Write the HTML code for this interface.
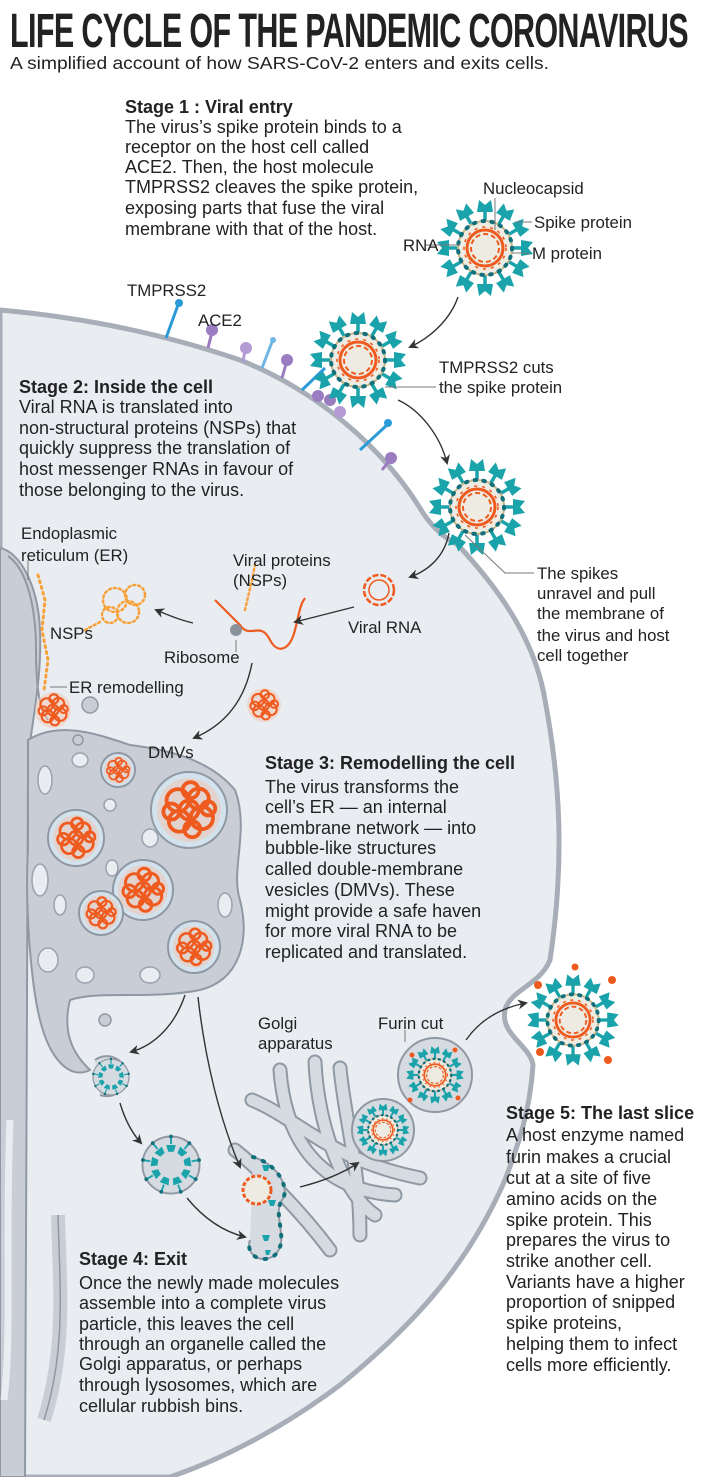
<!DOCTYPE html>
<html><head><meta charset="utf-8">
<style>
html,body{margin:0;padding:0;background:#fff;}
svg{display:block;}
text{font-family:"Liberation Sans",Arial,sans-serif;fill:#222;}
.t{font-size:18px;}
.b{font-weight:bold;font-size:18px;}
.l{font-size:16.8px;}
</style></head><body>
<svg width="720" height="1477" viewBox="0 0 720 1477" xmlns="http://www.w3.org/2000/svg">
<defs>
<marker id="ah" markerWidth="10" markerHeight="10" refX="8" refY="5" orient="auto" markerUnits="userSpaceOnUse">
<path d="M0,0 L10,5 L0,10 L3,5 Z" fill="#333"/></marker>
<g id="sp">
<line x1="0" y1="-27" x2="0" y2="-38" stroke="#1aa3ab" stroke-width="3.5"/>
<path d="M-8,-36 L8,-36 L6,-48 L0,-43 L-6,-48 Z" fill="#1aa3ab"/>
</g>
<g id="vir">
<use href="#sp"/><use href="#sp" transform="rotate(30)"/><use href="#sp" transform="rotate(60)"/>
<use href="#sp" transform="rotate(90)"/><use href="#sp" transform="rotate(120)"/><use href="#sp" transform="rotate(150)"/>
<use href="#sp" transform="rotate(180)"/><use href="#sp" transform="rotate(210)"/><use href="#sp" transform="rotate(240)"/>
<use href="#sp" transform="rotate(270)"/><use href="#sp" transform="rotate(300)"/><use href="#sp" transform="rotate(330)"/>
<circle r="27" fill="#eeece2" stroke="#c9b58a" stroke-width="2"/>
<circle r="27" fill="none" stroke="#11707a" stroke-width="4" stroke-dasharray="1.5 7.4" stroke-linecap="round"/>
<circle r="18" fill="none" stroke="#ef5a1e" stroke-width="3"/>
<circle r="14" fill="none" stroke="#ef5a1e" stroke-width="2" stroke-dasharray="5 3"/>
<circle r="21" fill="none" stroke="#ef5a1e" stroke-width="1.6" stroke-dasharray="3 5"/>
</g>
<g id="spin">
<line x1="0" y1="-30" x2="0" y2="-22" stroke="#1aa3ab" stroke-width="2"/>
<path d="M-5,-21 L5,-21 L3,-14 L-3,-14 Z" fill="#1aa3ab"/>
<circle cy="-30" r="2" fill="#11707a"/>
</g>
<g id="ves">
<circle r="30" fill="#d6dbe1" stroke="#8f98a3" stroke-width="2"/>
<use href="#spin"/><use href="#spin" transform="rotate(40)"/><use href="#spin" transform="rotate(80)"/>
<use href="#spin" transform="rotate(120)"/><use href="#spin" transform="rotate(160)"/><use href="#spin" transform="rotate(200)"/>
<use href="#spin" transform="rotate(240)"/><use href="#spin" transform="rotate(280)"/><use href="#spin" transform="rotate(320)"/>
</g>
<g id="tg">
<circle r="1" fill="#f3c3ad" opacity="0.5"/>
<g fill="none" stroke="#ef5a1e" stroke-width="0.12">
<circle cx="-0.35" cy="-0.3" r="0.35"/>
<circle cx="0.3" cy="-0.35" r="0.32"/>
<circle cx="0.4" cy="0.25" r="0.35"/>
<circle cx="-0.3" cy="0.35" r="0.33"/>
<circle cx="0" cy="0" r="0.3"/>
<circle cx="-0.55" cy="0.05" r="0.25"/>
<circle cx="0.1" cy="0.6" r="0.25"/>
<circle cx="0.05" cy="-0.62" r="0.25"/>
<circle cx="0.6" cy="-0.05" r="0.22"/>
</g>
</g>
</defs>

<!-- cell -->
<path d="M0,310 C90,318 170,336 240,360 C320,392 385,450 423,513 C438,535 450,540 458,545 C500,590 535,640 545,700 C560,780 565,860 550,960 C540,985 510,990 505,1010 C500,1035 530,1045 533,1065 C530,1110 520,1140 505,1180 C470,1260 420,1320 340,1385 C280,1430 220,1460 170,1477 L0,1477 Z" fill="#e9edf2" stroke="#a7aeb8" stroke-width="5"/>

<!-- ER left band -->
<path d="M0,548 C20,552 38,585 40,630 C42,680 32,720 28,760 L25,1477 L0,1477 Z" fill="#c9ced6" stroke="#8f98a3" stroke-width="2"/>
<path d="M8,556 C28,570 36,610 36,650 C36,690 40,710 48,720" fill="none" stroke="#8f98a3" stroke-width="2"/>
<path d="M10,1120 C5,1250 12,1330 4,1400" fill="none" stroke="#e9edf2" stroke-width="7"/>
<path d="M58,1215 C60,1290 66,1350 44,1420" fill="none" stroke="#c9ced6" stroke-width="14"/>
<path d="M58,1215 C60,1290 66,1350 44,1420" fill="none" stroke="#8f98a3" stroke-width="1.5"/>
<!-- DMV complex -->
<path d="M28,740 C60,720 100,735 130,745 C170,750 210,760 235,790 C250,830 230,870 240,900 C250,940 240,980 200,990 C150,1000 100,990 70,1000 C60,1040 80,1060 90,1070 C70,1080 50,1060 40,1020 C30,980 25,900 28,850 Z" fill="#c9ced6" stroke="#8f98a3" stroke-width="2"/>
<g fill="#e9edf2" stroke="#9aa2ad" stroke-width="1.5">
<ellipse cx="45" cy="780" rx="7" ry="14"/><ellipse cx="40" cy="880" rx="8" ry="16"/><ellipse cx="48" cy="960" rx="10" ry="12"/>
<ellipse cx="85" cy="975" rx="9" ry="8"/><ellipse cx="150" cy="975" rx="10" ry="8"/><ellipse cx="225" cy="905" rx="7" ry="12"/>
<ellipse cx="150" cy="838" rx="8" ry="9"/><ellipse cx="112" cy="868" rx="6" ry="8"/><ellipse cx="60" cy="905" rx="6" ry="10"/>
<ellipse cx="80" cy="760" rx="8" ry="7"/><ellipse cx="110" cy="805" rx="6" ry="6"/><ellipse cx="175" cy="955" rx="6" ry="5"/>
</g>
<g stroke="#8f98a3" stroke-width="2" fill="#d3e3ee">
<circle cx="118" cy="770" r="17"/><circle cx="189" cy="810" r="38"/><circle cx="76" cy="838" r="28"/>
<circle cx="143" cy="890" r="30"/><circle cx="101" cy="913" r="22"/><circle cx="194" cy="947" r="26"/>
</g>
<use href="#tg" transform="translate(118,770) scale(14)"/>
<use href="#tg" transform="translate(189,810) scale(32)"/>
<use href="#tg" transform="translate(76,838) scale(23)"/>
<use href="#tg" transform="translate(143,890) scale(25)"/>
<use href="#tg" transform="translate(101,913) scale(18)"/>
<use href="#tg" transform="translate(194,947) scale(21)"/>
<circle cx="90" cy="705" r="8" fill="#c9ced6" stroke="#8f98a3" stroke-width="1.5"/>
<circle cx="78" cy="740" r="5" fill="#c9ced6" stroke="#8f98a3" stroke-width="1.5"/>
<circle cx="105" cy="1020" r="6" fill="#c9ced6" stroke="#8f98a3" stroke-width="1.5"/>
<use href="#tg" transform="translate(53,710) scale(18)"/>
<use href="#tg" transform="translate(264,705) scale(17)"/>
<path d="M38,575 L45,600 L42,630 L48,660 L44,690" fill="none" stroke="#f7a13a" stroke-width="3" stroke-dasharray="2 4" stroke-linecap="round"/>
<g fill="none" stroke="#f7a13a" stroke-width="2.5" stroke-dasharray="2 3" stroke-linecap="round">
<circle cx="115" cy="600" r="12"/><circle cx="135" cy="595" r="10"/><circle cx="128" cy="612" r="11"/><circle cx="110" cy="615" r="8"/>
<path d="M85,630 L100,622"/><path d="M245,610 L252,580 L255,565"/>
</g>
<path d="M215,600 C225,610 230,615 240,625 C250,640 260,620 270,640 C278,655 290,650 295,630 C300,610 300,605 305,598" fill="none" stroke="#ef5a1e" stroke-width="2.2"/>
<circle cx="236" cy="630" r="6" fill="#8a929c"/>
<circle cx="379" cy="590" r="15" fill="none" stroke="#ef5a1e" stroke-width="2.5" stroke-dasharray="6 2"/>
<circle cx="379" cy="590" r="10" fill="none" stroke="#ef5a1e" stroke-width="1.5"/>

<!-- receptors -->
<g fill="none" stroke-width="3">
<path d="M166,338 L178,305" stroke="#2a9ad8"/><circle cx="179" cy="303" r="4" fill="#2a9ad8" stroke="none"/>
<path d="M208,348 L212,332" stroke="#9a7cc0"/><circle cx="212" cy="330" r="6" fill="#9a7cc0" stroke="none"/>
<path d="M243,362 L245,350" stroke="#b59bd4"/><circle cx="246" cy="348" r="6" fill="#b59bd4" stroke="none"/>
<path d="M262,368 L272,342" stroke="#6eb6e6"/><circle cx="273" cy="340" r="3" fill="#6eb6e6" stroke="none"/>
<path d="M282,378 L286,364" stroke="#9a7cc0"/><circle cx="287" cy="360" r="6" fill="#9a7cc0" stroke="none"/>
<path d="M302,390 L325,368" stroke="#2a9ad8"/>
<circle cx="318" cy="396" r="6" fill="#9a7cc0" stroke="none"/><circle cx="330" cy="400" r="6" fill="#9a7cc0" stroke="none"/><circle cx="340" cy="412" r="6" fill="#b59bd4" stroke="none"/>
<path d="M360,450 L387,425" stroke="#2a9ad8"/><circle cx="388" cy="423" r="4" fill="#2a9ad8" stroke="none"/>
<path d="M382,470 L390,460" stroke="#9a7cc0"/><circle cx="391" cy="458" r="6" fill="#9a7cc0" stroke="none"/>
</g>

<use href="#vir" transform="translate(485,248)"/>
<use href="#vir" transform="translate(358,360)"/>
<use href="#vir" transform="translate(477,507)"/>
<use href="#vir" transform="translate(573,1020) scale(0.95)"/>
<g fill="#ef5a1e"><circle cx="538" cy="985" r="4"/><circle cx="612" cy="980" r="4"/><circle cx="540" cy="1052" r="4"/><circle cx="608" cy="1060" r="4"/><circle cx="575" cy="967" r="3.5"/></g>

<!-- golgi -->
<g fill="none" stroke-linecap="round">
<g stroke="#8f98a3" stroke-width="15">
<path d="M252,1100 C300,1120 330,1160 420,1178"/>
<path d="M280,1070 C285,1140 320,1190 395,1195"/>
<path d="M315,1062 C318,1130 345,1195 375,1215"/>
<path d="M340,1068 C345,1120 360,1170 360,1235"/>
<path d="M235,1150 C260,1170 300,1210 330,1250"/>
</g>
<g stroke="#d6dbe1" stroke-width="11">
<path d="M252,1100 C300,1120 330,1160 420,1178"/>
<path d="M280,1070 C285,1140 320,1190 395,1195"/>
<path d="M315,1062 C318,1130 345,1195 375,1215"/>
<path d="M340,1068 C345,1120 360,1170 360,1235"/>
<path d="M235,1150 C260,1170 300,1210 330,1250"/>
</g>
</g>
<path d="M253,1157 C280,1165 290,1190 282,1200 C272,1215 290,1240 275,1255 C262,1265 245,1255 250,1240" fill="#d6dbe1" stroke="#8f98a3" stroke-width="2"/>
<path d="M253,1157 C280,1165 290,1190 282,1200 C272,1215 290,1240 275,1255 C262,1265 245,1255 250,1240" fill="none" stroke="#11707a" stroke-width="4" stroke-dasharray="1.5 9" stroke-linecap="round"/>
<g fill="#1aa3ab"><path d="M262,1165 l8,0 -2,6 -4,0z"/><path d="M268,1200 l8,0 -2,6 -4,0z"/><path d="M262,1235 l8,0 -2,6 -4,0z"/><path d="M265,1250 l6,0 -2,5 -3,0z"/></g>
<circle cx="257" cy="1190" r="14" fill="#eeece2" stroke="#ef5a1e" stroke-width="3" stroke-dasharray="4 2"/>
<path d="M95,1060 A20,20 0 1,1 100,1095" fill="#d6dbe1" stroke="#8f98a3" stroke-width="2"/>
<use href="#ves" transform="translate(111,1077) scale(0.6)"/>
<use href="#ves" transform="translate(171,1165) scale(0.95)"/>
<circle cx="383" cy="1130" r="31" fill="#d6dbe1" stroke="#8f98a3" stroke-width="2"/>
<use href="#vir" transform="translate(383,1130) scale(0.55)"/>
<circle cx="435" cy="1075" r="37" fill="#d6dbe1" stroke="#8f98a3" stroke-width="2"/>
<use href="#vir" transform="translate(435,1075) scale(0.6)"/>
<g fill="#ef5a1e"><circle cx="412" cy="1055" r="2.5"/><circle cx="455" cy="1050" r="2.5"/><circle cx="410" cy="1100" r="2.5"/><circle cx="458" cy="1098" r="2.5"/></g>

<g fill="none" stroke="#333" stroke-width="1.4" marker-end="url(#ah)">
<path d="M458,297 C450,320 430,338 410,347"/>
<path d="M398,400 C420,410 440,435 447,463"/>
<path d="M449,533 C445,555 430,570 410,577"/>
<path d="M354,607 C335,612 315,617 295,622"/>
<path d="M193,623 C180,620 168,615 156,610"/>
<path d="M252,663 C245,700 225,725 194,738"/>
<path d="M185,995 C175,1025 155,1045 131,1052"/>
<path d="M198,997 C205,1060 220,1120 240,1167"/>
<path d="M120,1103 C125,1120 132,1133 141,1143"/>
<path d="M187,1198 C205,1220 225,1232 245,1237"/>
<path d="M300,1187 C320,1182 340,1175 358,1163"/>
<path d="M466,1040 C480,1020 500,1008 526,1003"/>
</g>
<g stroke="#777" stroke-width="1" fill="none">
<path d="M495,198 L495,230"/><path d="M532,222 L515,222"/><path d="M425,245 L460,245"/><path d="M530,253 L512,253"/>
<path d="M436,387 L385,387"/><path d="M534,573 L505,573 L465,535"/>
<path d="M28,560 L28,580"/><path d="M67,687 L50,687"/><path d="M236,640 L236,652"/><path d="M405,1030 L405,1042"/>
</g>

<text x="10" y="47" font-size="48" font-weight="bold" textLength="678" lengthAdjust="spacingAndGlyphs" style="font-family:'Liberation Sans Narrow','Liberation Sans',sans-serif;letter-spacing:-1px">LIFE CYCLE OF THE PANDEMIC CORONAVIRUS</text>
<text x="10" y="69" font-size="17.5" textLength="539" lengthAdjust="spacingAndGlyphs">A simplified account of how SARS-CoV-2 enters and exits cells.</text>

<text class="b" x="125" y="113">Stage 1 : Viral entry</text>
<text class="t" x="125" y="133">The virus’s spike protein binds to a</text>
<text class="t" x="125" y="153">receptor on the host cell called</text>
<text class="t" x="125" y="173">ACE2. Then, the host molecule</text>
<text class="t" x="125" y="193">TMPRSS2 cleaves the spike protein,</text>
<text class="t" x="125" y="214">exposing parts that fuse the viral</text>
<text class="t" x="125" y="235">membrane with that of the host.</text>

<text class="l" x="483" y="194">Nucleocapsid</text>
<text class="l" x="534" y="228">Spike protein</text>
<text class="l" x="403" y="251">RNA</text>
<text class="l" x="532" y="259">M protein</text>
<text class="l" x="127" y="296">TMPRSS2</text>
<text class="l" x="198" y="326">ACE2</text>
<text class="l" x="439" y="373">TMPRSS2 cuts</text>
<text class="l" x="439" y="393">the spike protein</text>

<text class="b" x="19" y="393">Stage 2: Inside the cell</text>
<text class="t" x="19" y="413">Viral RNA is translated into</text>
<text class="t" x="19" y="434">non-structural proteins (NSPs) that</text>
<text class="t" x="19" y="454">quickly suppress the translation of</text>
<text class="t" x="19" y="475">host messenger RNAs in favour of</text>
<text class="t" x="19" y="496">those belonging to the virus.</text>

<text class="l" x="21" y="539">Endoplasmic</text>
<text class="l" x="21" y="561">reticulum (ER)</text>
<text class="l" x="233" y="566">Viral proteins</text>
<text class="l" x="233" y="586">(NSPs)</text>
<text class="l" x="348" y="633">Viral RNA</text>
<text class="l" x="50" y="639">NSPs</text>
<text class="l" x="164" y="663">Ribosome</text>
<text class="l" x="69" y="693">ER remodelling</text>
<text class="l" x="537" y="579">The spikes</text>
<text class="l" x="537" y="599">unravel and pull</text>
<text class="l" x="537" y="619">the membrane of</text>
<text class="l" x="537" y="641">the virus and host</text>
<text class="l" x="537" y="661">cell together</text>
<text class="l" x="148" y="758">DMVs</text>

<text class="b" x="265" y="769">Stage 3: Remodelling the cell</text>
<text class="t" x="265" y="793">The virus transforms the</text>
<text class="t" x="265" y="813">cell’s ER — an internal</text>
<text class="t" x="265" y="834">membrane network — into</text>
<text class="t" x="265" y="854">bubble-like structures</text>
<text class="t" x="265" y="875">called double-membrane</text>
<text class="t" x="265" y="896">vesicles (DMVs). These</text>
<text class="t" x="265" y="917">might provide a safe haven</text>
<text class="t" x="265" y="937">for more viral RNA to be</text>
<text class="t" x="265" y="958">replicated and translated.</text>

<text class="l" x="258" y="1029">Golgi</text>
<text class="l" x="258" y="1049">apparatus</text>
<text class="l" x="378" y="1029">Furin cut</text>

<text class="b" x="506" y="1119">Stage 5: The last slice</text>
<text class="t" x="506" y="1141">A host enzyme named</text>
<text class="t" x="506" y="1163">furin makes a crucial</text>
<text class="t" x="506" y="1184">cut at a site of five</text>
<text class="t" x="506" y="1205">amino acids on the</text>
<text class="t" x="506" y="1226">spike protein. This</text>
<text class="t" x="506" y="1246">prepares the virus to</text>
<text class="t" x="506" y="1267">strike another cell.</text>
<text class="t" x="506" y="1288">Variants have a higher</text>
<text class="t" x="506" y="1308">proportion of snipped</text>
<text class="t" x="506" y="1329">spike proteins,</text>
<text class="t" x="506" y="1350">helping them to infect</text>
<text class="t" x="506" y="1371">cells more efficiently.</text>

<text class="b" x="79" y="1265">Stage 4: Exit</text>
<text class="t" x="79" y="1289">Once the newly made molecules</text>
<text class="t" x="79" y="1309">assemble into a complete virus</text>
<text class="t" x="79" y="1330">particle, this leaves the cell</text>
<text class="t" x="79" y="1350">through an organelle called the</text>
<text class="t" x="79" y="1370">Golgi apparatus, or perhaps</text>
<text class="t" x="79" y="1391">through lysosomes, which are</text>
<text class="t" x="79" y="1412">cellular rubbish bins.</text>
</svg>
</body></html>
